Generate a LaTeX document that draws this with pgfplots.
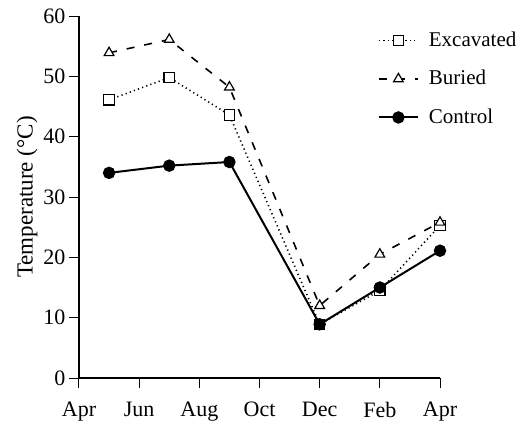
\documentclass[border=0pt]{standalone}
\usepackage{fontspec}
\setmainfont{Liberation Serif}
\usepackage{pgfplots}
\pgfplotsset{compat=1.18}
\begin{document}
\fontsize{11}{13}\selectfont
\begin{tikzpicture}
\path[use as bounding box] (-39.5pt,-23.5pt) rectangle (225.5pt,189pt);
\begin{axis}[
  at={(0,0)}, anchor=origin,
  x=15.0417pt, y=3.0167pt,
  xmin=0, xmax=12, ymin=0, ymax=60,
  axis x line*=bottom, axis y line*=left,
  xtick={0,2,...,12}, xticklabels={Apr,Jun,Aug,Oct,Dec,Feb,Apr},
  ytick={0,10,...,60},
  tick align=outside, major tick length=5pt,
  every tick/.style={line width=0.5pt, black},
  axis line style={line width=1pt},
  /pgf/number format/assume math mode=true,
  ticklabel style={font=\fontsize{11}{13}\selectfont},
  yticklabel style={xshift=2pt},
  xticklabel style={yshift=-3pt},
  every axis y label/.style={at={(axis description cs:-0.144,0.5)}, rotate=90, anchor=center, font=\fontsize{11.5}{13}\selectfont},
  ylabel={Temperature (°C)},
  legend style={draw=none, fill=none, at={(axis description cs:0.828,0.968)}, anchor=north west, inner sep=0pt, outer sep=0pt, row sep=6.3pt, column sep=3pt, font=\fontsize{10.5}{12}\selectfont},
  legend cell align=left,
  legend image code/.code={\draw[mark repeat=2,mark phase=2] plot coordinates {(0pt,0pt)(9.75pt,0pt)(19.5pt,0pt)};},
]
\addplot[black, line width=0.8pt, dash pattern=on 0.6pt off 1.6pt, mark=square*, mark size=2.6pt, mark options={solid, fill=white, line width=0.6pt}]
  coordinates {(1,46.1)(3,49.8)(5,43.6)(8,8.9)(10,14.5)(12,25.3)};
\addlegendentry{Excavated}
\addplot[black, line width=0.8pt, dash pattern=on 4pt off 5pt, mark=triangle*, mark size=2.8pt, mark options={solid, fill=white, line width=0.6pt}]
  coordinates {(1,53.9)(3,56.1)(5,48.2)(8,12.0)(10,20.5)(12,25.8)};
\addlegendentry{Buried}
\addplot[black, line width=1pt, solid, mark=*, mark size=2.6pt, mark options={solid, fill=black}]
  coordinates {(1,34.0)(3,35.2)(5,35.8)(8,8.9)(10,15.0)(12,21.1)};
\addlegendentry{Control}
\end{axis}
\end{tikzpicture}
\end{document}
